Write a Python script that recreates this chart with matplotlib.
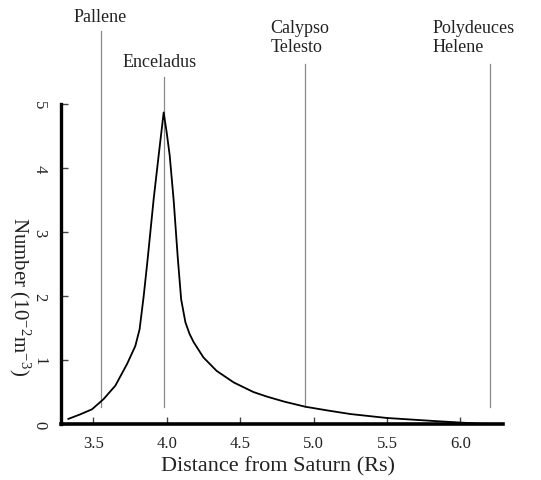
#!/usr/bin/env python3

import matplotlib
matplotlib.use("Agg")
import matplotlib.pyplot as plt

# dust density profile
distance = [3.33, 3.41, 3.491, 3.57, 3.65, 3.73, 3.786, 3.815, 3.843, 3.87, 3.911,
            3.945, 3.979, 4.00, 4.02, 4.047, 4.075, 4.098, 4.127, 4.155, 4.183,
            4.25, 4.34, 4.456, 4.59, 4.68, 4.80, 4.944, 5.10, 5.25, 5.50, 5.82,
            6.05, 6.16]
number = [0.08, 0.15, 0.23, 0.39, 0.60, 0.94, 1.22, 1.48, 2.00, 2.58, 3.52,
          4.20, 4.87, 4.55, 4.20, 3.50, 2.60, 1.95, 1.59, 1.41, 1.28,
          1.04, 0.83, 0.65, 0.50, 0.43, 0.35, 0.27, 0.21, 0.156, 0.094, 0.047,
          0.016, 0.0]

moon_names = ["Pallene", "Enceladus", "Calypso\nTelesto", "Polydeuces\nHelene"]
moon_pos = [3.55, 3.98, 4.94, 6.20]
moon_top = [6.14, 5.42, 5.62, 5.62]
moon_label_x = [3.365, 3.698, 4.706, 5.809]
moon_label_y = [6.37, 5.66, 6.05, 6.05]

xticks = [3.5, 4.0, 4.5, 5.0, 5.5, 6.0]
yticks = [0, 1, 2, 3, 4, 5]

plt.rcParams['font.family'] = ['Liberation Serif', 'DejaVu Serif']
plt.rcParams['mathtext.fontset'] = 'stix'

fig = plt.figure(figsize=(5.41, 4.81), dpi=100)
ax = fig.add_axes([0.1128, 0.1164, 0.817, 0.665])

ax.plot(distance, number, color='black', lw=1.3)

for name, x, top, lx, ly in zip(moon_names, moon_pos, moon_top, moon_label_x, moon_label_y):
    ax.plot([x, x], [0.27, top], color='#888888', lw=0.9, clip_on=False, zorder=1)
    ax.text(lx, ly, name, ha='left', va='center', fontsize=13,
            color='#222222', linespacing=1.2, multialignment='left')

ax.set_xlim(3.28, 6.29)
ax.set_ylim(0, 5.0)
ax.set_xticks(xticks)
ax.set_xticklabels([f"{t:.1f}" for t in xticks], fontsize=12, color='#222222')
ax.set_yticks(yticks)
ax.set_yticklabels([str(t) for t in yticks], fontsize=12, rotation=270,
                   va='center', color='#222222')

ax.spines['top'].set_visible(False)
ax.spines['right'].set_visible(False)
ax.spines['left'].set_linewidth(2.4)
ax.spines['bottom'].set_linewidth(2.6)
ax.tick_params(axis='x', direction='in', length=5, width=1, color='#444444', pad=8)
ax.tick_params(axis='y', direction='in', length=5, width=1, color='#444444', pad=10)

ax.set_xlabel("Distance from Saturn (Rs)", fontsize=16, color='#222222')
ax.xaxis.set_label_coords(0.49, -0.10)
ax.set_ylabel(r"Number (10$^{\mathregular{-2}}$m$^{\mathregular{-3}}$)", fontsize=15,
              rotation=270, color='#222222', va='center')
ax.yaxis.set_label_coords(-0.093, 0.40)

fig.savefig("out.png", dpi=100)
